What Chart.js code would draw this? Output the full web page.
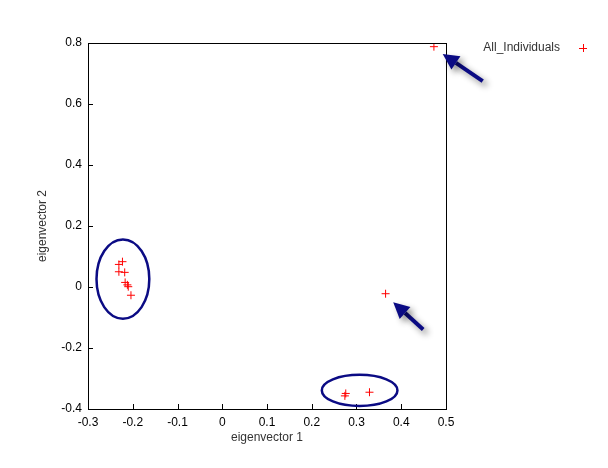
<!DOCTYPE html>
<html>
<head>
<meta charset="utf-8">
<script src="https://cdn.jsdelivr.net/npm/chart.js"></script>
<style>
  body { margin: 0; background: #fff; }
  #wrap { width: 608px; height: 468px; }
</style>
</head>
<body>
<div id="wrap"><canvas id="myChart" width="608" height="468"></canvas></div>
<script>
// puntos (eigenvector 1, eigenvector 2)
const ev1 = [-0.223, -0.231, -0.231, -0.218, -0.217, -0.212, -0.210, -0.204, 0.276, 0.274, 0.329, 0.365, 0.473]
const ev2 = [0.083, 0.074, 0.050, 0.048, 0.015, 0.007, 0.001, -0.027, -0.349, -0.357, -0.345, -0.022, 0.788]
const serieNombre = 'All_Individuals'

// ticks de los ejes
const xTicks = [-0.3, -0.2, -0.1, 0, 0.1, 0.2, 0.3, 0.4, 0.5]
const yTicks = [-0.4, -0.2, 0, 0.2, 0.4, 0.6, 0.8]

// anotaciones: elipses (centro x, centro y, radio x, radio y) y flechas (cola -> punta)
const elipsesCx = [-0.222, 0.307]
const elipsesCy = [0.026, -0.339]
const elipsesRx = [0.059, 0.0845]
const elipsesRy = [0.130, 0.051]
const flechasX0 = [0.582, 0.449]
const flechasY0 = [0.675, -0.139]
const flechasX1 = [0.4926, 0.382]
const flechasY1 = [0.764, -0.050]

const puntos = ev1.map((x, i) => ({ x: x, y: ev2[i] }))
const azul = '#0b0b84'
const fuente = '"Liberation Sans", Arial, sans-serif'

const marcoPlugin = {
  id: 'marco',
  afterDatasetsDraw(chart) {
    const c = chart.ctx
    const a = chart.chartArea
    const sx = chart.scales.x
    const sy = chart.scales.y
    c.save()
    // caja del grafico
    c.strokeStyle = '#000'
    c.lineWidth = 1
    c.strokeRect(a.left + 0.5, a.top + 0.5, a.right - a.left, a.bottom - a.top)
    // ticks hacia dentro
    c.beginPath()
    xTicks.forEach(v => {
      const px = Math.round(sx.getPixelForValue(v)) + 0.5
      c.moveTo(px, a.bottom); c.lineTo(px, a.bottom - 5)
    })
    yTicks.forEach(v => {
      const py = Math.round(sy.getPixelForValue(v)) + 0.5
      c.moveTo(a.left, py); c.lineTo(a.left + 5, py)
    })
    c.stroke()

    // elipses
    c.strokeStyle = azul
    c.lineWidth = 2.5
    elipsesCx.forEach((cx, i) => {
      const px = sx.getPixelForValue(cx)
      const py = sy.getPixelForValue(elipsesCy[i])
      const rx = Math.abs(sx.getPixelForValue(cx + elipsesRx[i]) - px)
      const ry = Math.abs(sy.getPixelForValue(elipsesCy[i] + elipsesRy[i]) - py)
      c.beginPath()
      c.ellipse(px, py, rx, ry, 0, 0, Math.PI * 2)
      c.stroke()
    })

    // flechas con sombra
    flechasX0.forEach((x0, i) => {
      const ax = sx.getPixelForValue(x0)
      const ay = sy.getPixelForValue(flechasY0[i])
      const bx = sx.getPixelForValue(flechasX1[i])
      const by = sy.getPixelForValue(flechasY1[i])
      const ang = Math.atan2(by - ay, bx - ax)
      const largo = 16
      const ancho = 8
      const hx = bx - largo * Math.cos(ang)
      const hy = by - largo * Math.sin(ang)
      c.save()
      c.shadowColor = 'rgba(0,0,0,0.45)'
      c.shadowBlur = 6
      c.shadowOffsetX = 4
      c.shadowOffsetY = 4
      c.strokeStyle = azul
      c.fillStyle = azul
      c.lineWidth = 4
      c.beginPath()
      c.moveTo(ax, ay); c.lineTo(hx, hy)
      c.stroke()
      c.beginPath()
      c.moveTo(bx, by)
      c.lineTo(hx + ancho * Math.sin(ang), hy - ancho * Math.cos(ang))
      c.lineTo(hx - ancho * Math.sin(ang), hy + ancho * Math.cos(ang))
      c.closePath()
      c.fill()
      c.restore()
    })

    // leyenda al estilo gnuplot: texto y luego el simbolo
    c.fillStyle = '#333'
    c.font = '12px ' + fuente
    c.textAlign = 'right'
    c.textBaseline = 'middle'
    c.fillText(serieNombre, 560, 48)
    c.strokeStyle = '#ff0000'
    c.lineWidth = 1
    c.beginPath()
    c.moveTo(579, 48.5); c.lineTo(587, 48.5)
    c.moveTo(583.5, 44); c.lineTo(583.5, 52)
    c.stroke()
    c.restore()
  }
}

new Chart(document.getElementById('myChart'), {
  type: 'scatter',
  data: {
    datasets: [{
      label: serieNombre,
      data: puntos,
      pointStyle: 'cross',
      pointRadius: 4,
      pointBorderWidth: 1,
      borderColor: '#ff0000',
      backgroundColor: '#ff0000'
    }]
  },
  options: {
    responsive: false,
    animation: false,
    layout: { padding: { top: 43, right: 162, left: 0, bottom: 0 } },
    plugins: {
      legend: { display: false },
      tooltip: { enabled: false }
    },
    scales: {
      x: {
        type: 'linear',
        min: -0.3,
        max: 0.5,
        afterBuildTicks: s => { s.ticks = xTicks.map(v => ({ value: v })) },
        afterFit: s => { s.height = 59 },
        grid: { display: false, drawTicks: false },
        border: { display: false },
        ticks: {
          color: '#000',
          font: { family: fuente, size: 12 },
          padding: 6,
          maxRotation: 0,
          callback: v => String(Math.round(v * 10) / 10)
        },
        title: {
          display: true,
          text: 'eigenvector 1',
          color: '#333',
          font: { family: fuente, size: 12 },
          padding: { top: 23, bottom: 23 }
        }
      },
      y: {
        type: 'linear',
        min: -0.4,
        max: 0.8,
        afterBuildTicks: s => { s.ticks = yTicks.map(v => ({ value: v })) },
        afterFit: s => { s.width = 88 },
        grid: { display: false, drawTicks: false },
        border: { display: false },
        ticks: {
          color: '#000',
          font: { family: fuente, size: 12 },
          padding: 6,
          callback: v => String(Math.round(v * 10) / 10)
        },
        title: {
          display: true,
          text: 'eigenvector 2',
          color: '#333',
          font: { family: fuente, size: 12 },
          padding: { top: 35, bottom: 0 }
        }
      }
    }
  },
  plugins: [marcoPlugin]
})
</script>
</body>
</html>
